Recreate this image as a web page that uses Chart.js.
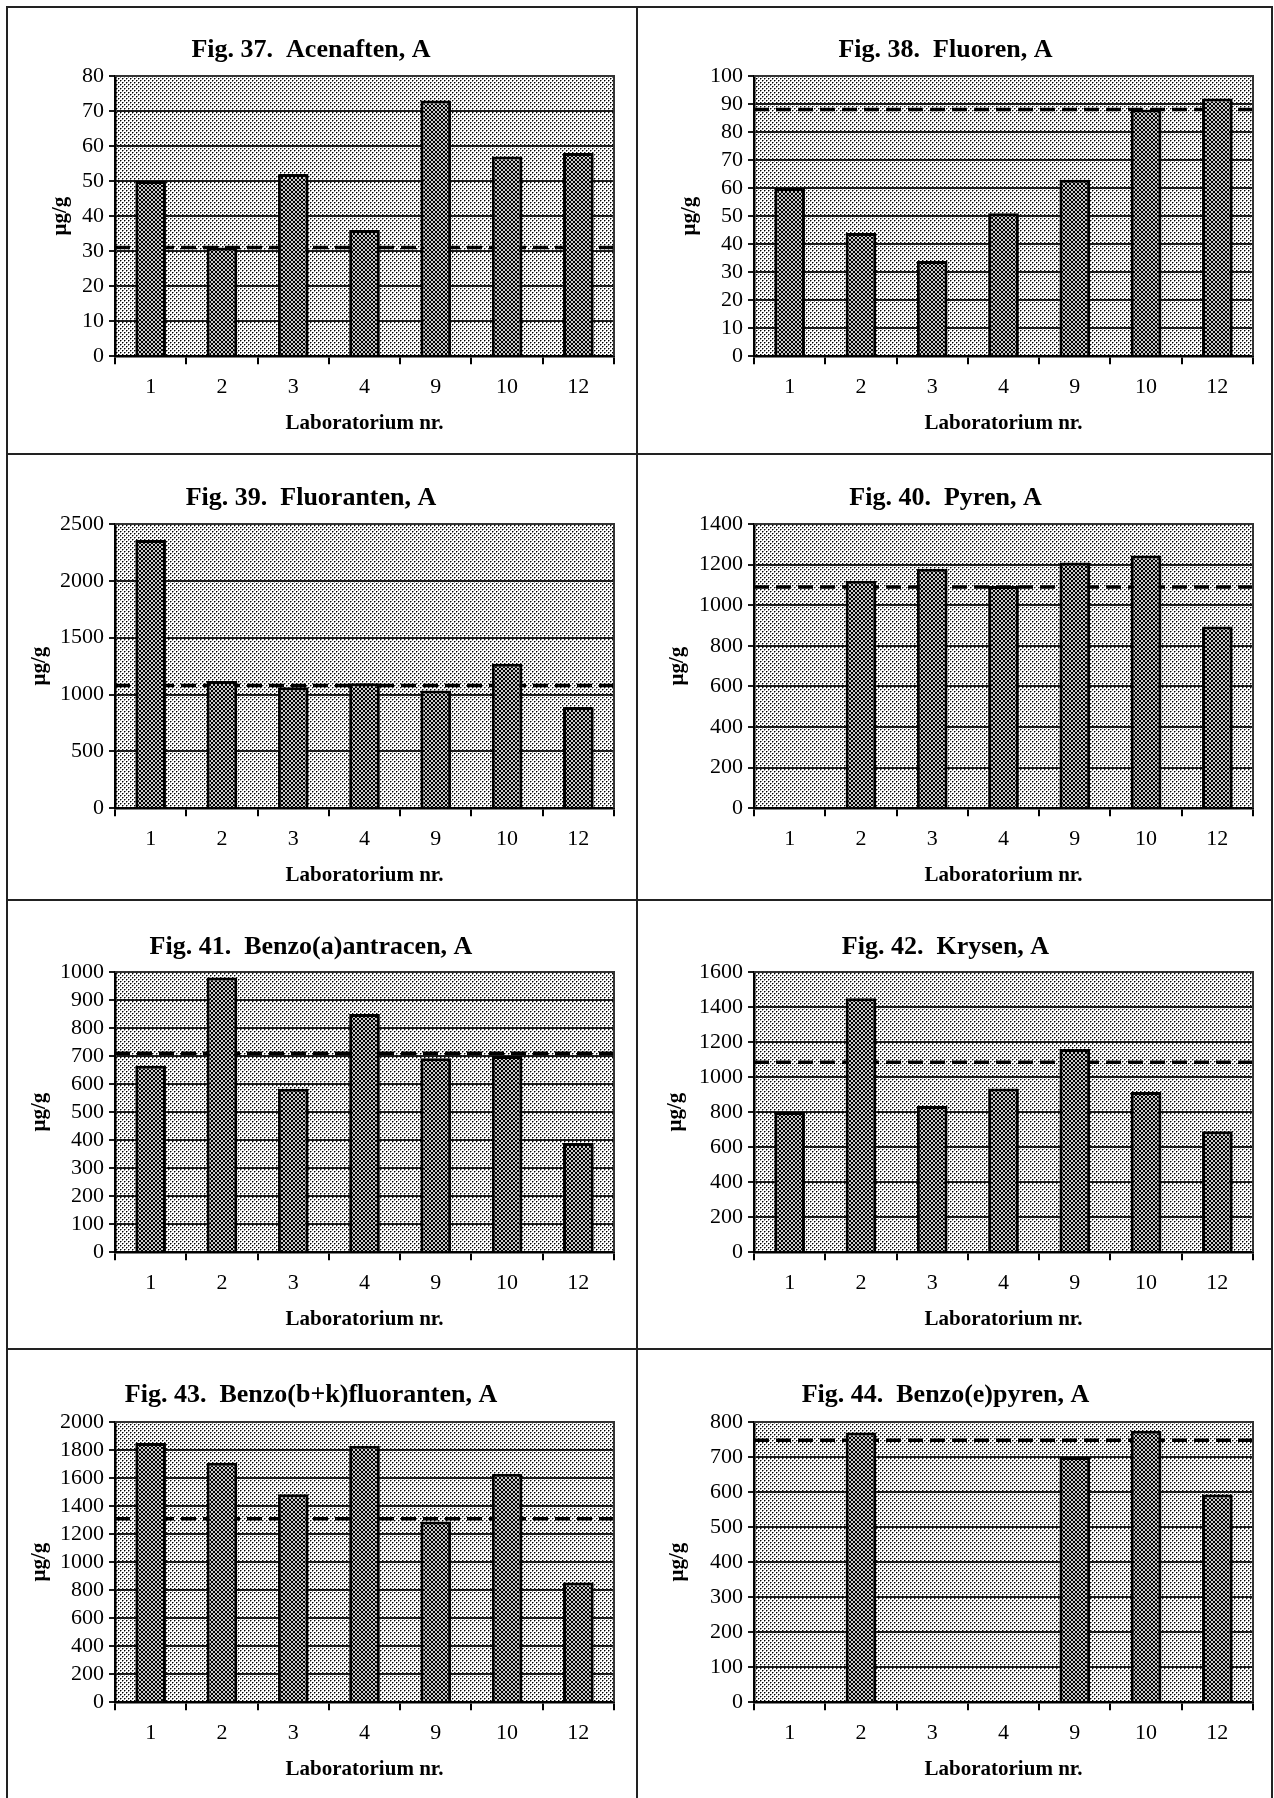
<!DOCTYPE html>
<html>
<head>
<meta charset="utf-8">
<script src="https://cdn.jsdelivr.net/npm/chart.js@4.4.0/dist/chart.umd.min.js"></script>
<style>
  html, body { margin: 0; padding: 0; background: #fff; }
  body { width: 1274px; height: 1798px; position: relative; overflow: hidden; }
  .rule { position: absolute; background: #222; }
  canvas { position: absolute; }
</style>
</head>
<body>
<script>
// ---- data ----
const labs = ['1', '2', '3', '4', '9', '10', '12'];

const acenaften       = [50, 31, 52, 36, 73, 57, 58];
const fluoren         = [60, 44, 34, 51, 63, 88, 92];
const fluoranten      = [2360, 1120, 1065, 1100, 1035, 1270, 890];
const pyren           = [null, 1120, 1180, 1095, 1210, 1245, 895];
const benzoAntracen   = [665, 980, 583, 850, 692, 700, 390];
const krysen          = [800, 1450, 835, 935, 1160, 915, 690];
const benzoBKFluorant = [1850, 1710, 1485, 1830, 1290, 1630, 855];
const benzoEPyren     = [null, 770, null, null, 700, 775, 593];

const figTitles = [
  'Fig. 37.  Acenaften, A',
  'Fig. 38.  Fluoren, A',
  'Fig. 39.  Fluoranten, A',
  'Fig. 40.  Pyren, A',
  'Fig. 41.  Benzo(a)antracen, A',
  'Fig. 42.  Krysen, A',
  'Fig. 43.  Benzo(b+k)fluoranten, A',
  'Fig. 44.  Benzo(e)pyren, A'
];
const yMax   = [80, 100, 2500, 1400, 1000, 1600, 2000, 800];
const yStep  = [10, 10, 500, 200, 100, 200, 200, 100];
const refValues = [31, 88, 1080, 1090, 710, 1085, 1310, 748];

const series = [acenaften, fluoren, fluoranten, pyren, benzoAntracen, krysen, benzoBKFluorant, benzoEPyren];

// ---- page layout ----
const colX = [8, 638];
const colW = [628, 633];
const rowY = [8, 455, 901, 1350];
const rowH = [445, 444, 447, 448];
// per row: title centre, plot top, plot bottom (relative to panel)
const rowTitleC = [42, 43, 46, 45];
const rowPlotTop = [68, 69, 71, 72];
const rowPlotBottom = [345, 350, 348, 349];
// per column: plot left and right (relative to panel)
const colPlotLeft = [107, 116];
const colPlotRight = [606, 615];
// centre of the rotated "µg/g" per panel
const yTitleX = [53, 52, 32, 40, 32, 38, 32, 40];

const SERIF = "'Liberation Serif', 'Times New Roman', serif";
const X_AXIS_H = 82.8;

Chart.defaults.font.family = SERIF;
Chart.defaults.color = '#000';

// frame lines
function rule(x, y, w, h) {
  const d = document.createElement('div');
  d.className = 'rule';
  d.style.left = x + 'px'; d.style.top = y + 'px';
  d.style.width = w + 'px'; d.style.height = h + 'px';
  document.body.appendChild(d);
}
rule(6, 6, 1267, 2);
rule(6, 6, 2, 1792);
rule(1271, 6, 2, 1792);
rule(636, 6, 2, 1792);
rule(6, 453, 1267, 2);
rule(6, 899, 1267, 2);
rule(6, 1348, 1267, 2);

// --- patterns ---
function dotPattern(ctx) {
  const c = document.createElement('canvas');
  c.width = 4; c.height = 4;
  const g = c.getContext('2d');
  g.fillStyle = '#fff'; g.fillRect(0, 0, 4, 4);
  g.fillStyle = '#8a8a8a';
  g.fillRect(1, 0, 1, 1); g.fillRect(0, 1, 1, 1);
  g.fillRect(3, 2, 1, 1); g.fillRect(2, 3, 1, 1);
  g.fillStyle = '#000';
  g.fillRect(0, 0, 1, 1); g.fillRect(2, 2, 1, 1);
  return ctx.createPattern(c, 'repeat');
}

function hatchPattern(ctx) {
  const c = document.createElement('canvas');
  c.width = 4; c.height = 4;
  const g = c.getContext('2d');
  g.fillStyle = '#c8c8c8'; g.fillRect(0, 0, 4, 4);
  g.fillStyle = '#000';
  for (let i = 0; i < 4; i++) {
    g.fillRect(i, i, 1, 1);
    g.fillRect(3 - i, i, 1, 1);
  }
  return ctx.createPattern(c, 'repeat');
}

// plot background + top/right frame
const plotFrame = {
  id: 'plotFrame',
  beforeDraw(chart) {
    const { ctx, chartArea: a } = chart;
    ctx.save();
    ctx.fillStyle = chart.$dots;
    ctx.fillRect(a.left, a.top, a.right - a.left, a.bottom - a.top);
    ctx.restore();
  },
  afterDatasetsDraw(chart) {
    const { ctx, chartArea: a } = chart;
    ctx.save();
    ctx.strokeStyle = '#333';
    ctx.lineWidth = 2;
    ctx.beginPath();
    ctx.moveTo(a.left, a.top);
    ctx.lineTo(a.right, a.top);
    ctx.lineTo(a.right, a.bottom);
    ctx.stroke();
    ctx.restore();
  }
};

function buildPanel(i) {
  const col = i % 2, row = Math.floor(i / 2);
  const w = colW[col], h = rowH[row];
  const canvas = document.createElement('canvas');
  canvas.width = w; canvas.height = h;
  canvas.style.left = colX[col] + 'px';
  canvas.style.top = rowY[row] + 'px';
  canvas.style.width = w + 'px';
  canvas.style.height = h + 'px';
  document.body.appendChild(canvas);
  const ctx = canvas.getContext('2d');

  const titlePadTop = rowTitleC[row] - 15.6;
  const titlePadBottom = rowPlotTop[row] - rowTitleC[row] - 15.6;
  const bottomPad = h - rowPlotBottom[row] - X_AXIS_H;
  const plotLeft = colPlotLeft[col];

  const chart = new Chart(ctx, {
    data: {
      labels: labs,
      datasets: [
        {
          type: 'bar',
          data: series[i],
          backgroundColor: hatchPattern(ctx),
          borderColor: '#000',
          borderWidth: 3,
          grouped: false,
          barPercentage: 0.43,
          categoryPercentage: 1,
          order: 0
        },
        {
          type: 'line',
          xAxisID: 'xRef',
          data: [{ x: 0, y: refValues[i] }, { x: 1, y: refValues[i] }],
          borderColor: '#000',
          borderWidth: 3.5,
          borderDash: [15, 7],
          pointRadius: 0,
          order: 1
        }
      ]
    },
    options: {
      responsive: false,
      animation: false,
      devicePixelRatio: 1,
      layout: { padding: { left: 0, top: 0, right: w - colPlotRight[col], bottom: bottomPad } },
      plugins: {
        legend: { display: false },
        tooltip: { enabled: false },
        title: {
          display: true,
          text: figTitles[i],
          color: '#000',
          font: { family: SERIF, size: 26, weight: 'bold' },
          padding: { top: titlePadTop, bottom: titlePadBottom }
        }
      },
      scales: {
        x: {
          type: 'category',
          offset: true,
          grid: {
            offset: true,
            drawOnChartArea: false,
            drawTicks: true,
            tickLength: 8,
            color: '#000',
            lineWidth: 2
          },
          border: { display: true, color: '#000', width: 2.5 },
          ticks: { font: { size: 22 }, color: '#000', padding: 10, maxRotation: 0, autoSkip: false },
          title: {
            display: true,
            text: 'Laboratorium nr.',
            color: '#000',
            font: { family: SERIF, size: 21, weight: 'bold' },
            padding: { top: 0, bottom: 0 }
          }
        },
        xRef: { type: 'linear', display: false, min: 0, max: 1 },
        y: {
          min: 0,
          max: yMax[i],
          afterFit(scale) { scale.width = plotLeft; },
          grid: {
            color: '#1a1a1a',
            lineWidth: 2,
            drawTicks: true,
            tickLength: 6
          },
          border: { display: true, color: '#000', width: 2.5 },
          ticks: {
            stepSize: yStep[i],
            autoSkip: false,
            font: { size: 22 },
            color: '#000',
            padding: 5,
            callback: v => String(v)
          },
          title: {
            display: true,
            text: 'µg/g',
            color: '#000',
            font: { family: SERIF, size: 21, weight: 'bold' },
            padding: { top: yTitleX[i] - 12.6, bottom: 0 }
          }
        }
      }
    },
    plugins: [plotFrame]
  });
  chart.$dots = dotPattern(ctx);
  chart.draw();
}

for (let i = 0; i < series.length; i++) buildPanel(i);
</script>
</body>
</html>
